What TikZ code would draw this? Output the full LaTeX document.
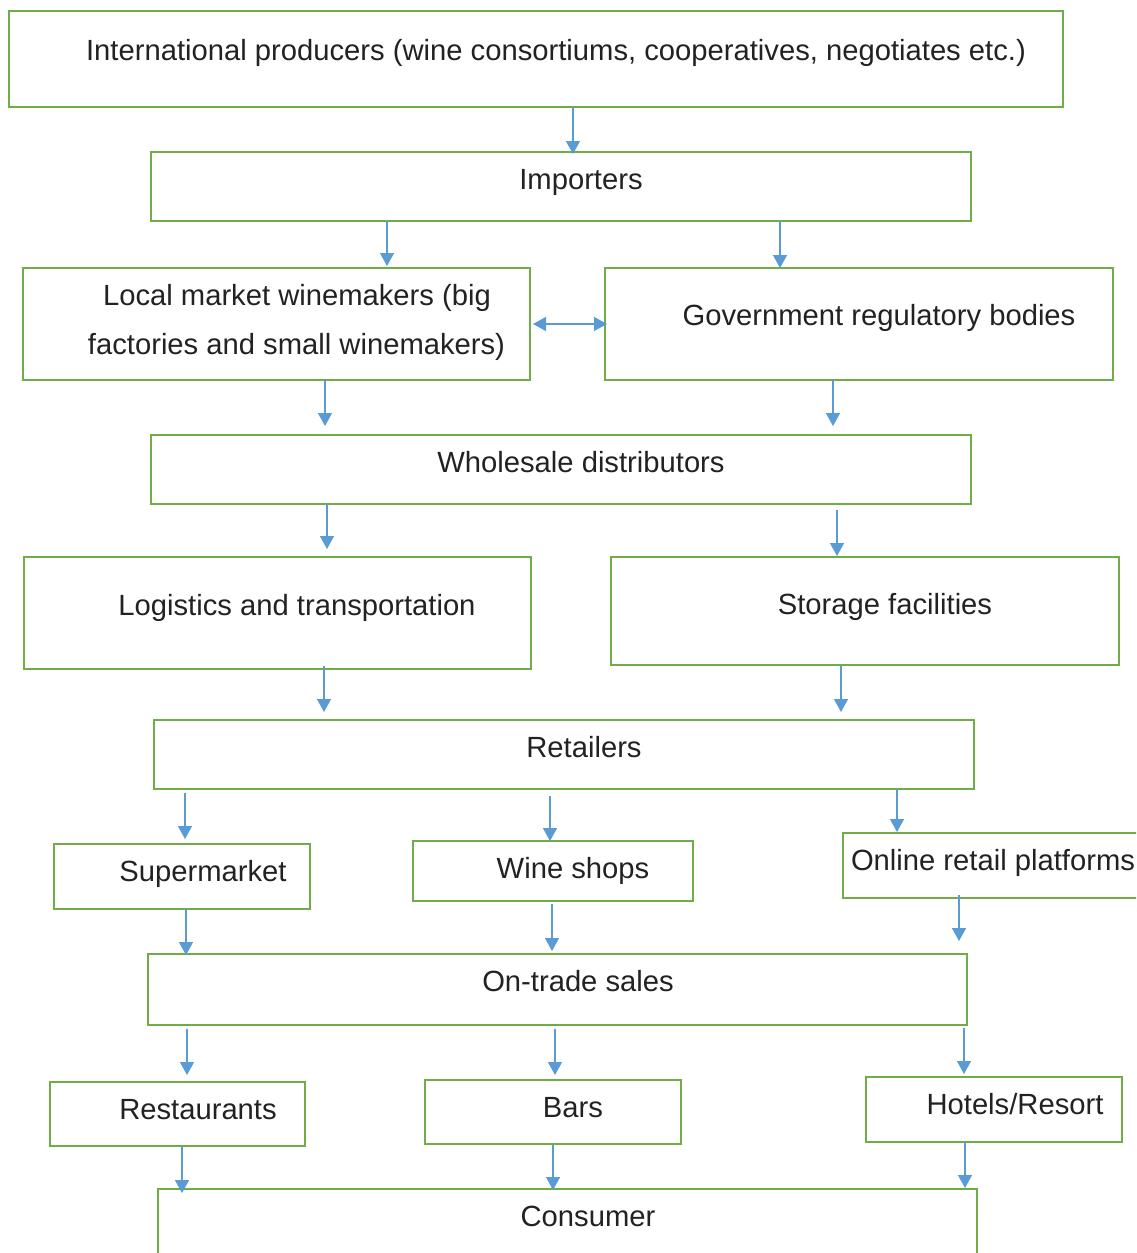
\documentclass[tikz,border=0pt]{standalone}
\usepackage{fontspec}
\setmainfont{Liberation Sans}
\usetikzlibrary{arrows.meta,calc}
\definecolor{boxgreen}{HTML}{70AD47}
\definecolor{arrblue}{HTML}{5B9BD5}
\definecolor{txt}{HTML}{222222}
\tikzset{
  box/.style={draw=boxgreen, line width=2pt, inner sep=0pt, outer sep=0pt, rectangle},
  lbl/.style={font=\fontsize{29.2}{34}\selectfont, text=txt, inner sep=0pt, anchor=base},
  arr/.style={color=arrblue, line width=1.4pt, -{Triangle[width=14pt,length=13pt]}},
  darr/.style={color=arrblue, line width=1.4pt, {Triangle[width=14pt,length=13pt]}-{Triangle[width=14pt,length=13pt]}}
}
\newcommand\varr[5]{\draw[arr] ($(#1.south -| #3,0)+(0,#4)$) -- ($(#2.north -| #3,0)+(0,#5)$);}
\begin{document}
\begin{tikzpicture}[x=1pt,y=-1pt]
\useasboundingbox (0,0) rectangle (1136,1253);
\fill[white] (0,0) rectangle (1136,1253);
\clip (0,0) rectangle (1136,1253);
% boxes
\node[box, minimum width=1054pt, minimum height=96pt] (intl) at (536,59) {};
\node[box, minimum width=820pt, minimum height=69pt] (imp) at (561,186.5) {};
\node[box, minimum width=507pt, minimum height=112pt] (loc) at (276.5,324) {};
\node[box, minimum width=508pt, minimum height=112pt] (gov) at (859,324) {};
\node[box, minimum width=820pt, minimum height=69pt] (whole) at (561,469.5) {};
\node[box, minimum width=507pt, minimum height=112pt] (logi) at (277.5,613) {};
\node[box, minimum width=508pt, minimum height=108pt] (stor) at (865,611) {};
\node[box, minimum width=820pt, minimum height=69pt] (ret) at (564,754.5) {};
\node[box, minimum width=256pt, minimum height=65pt] (sup) at (182,876.5) {};
\node[box, minimum width=280pt, minimum height=60pt] (wine) at (553,871) {};
\node[box, minimum width=307pt, minimum height=65pt] (onl) at (996.5,865.5) {};
\node[box, minimum width=819pt, minimum height=71pt] (ontr) at (557.5,989.5) {};
\node[box, minimum width=255pt, minimum height=64pt] (rest) at (177.5,1114) {};
\node[box, minimum width=256pt, minimum height=64pt] (bars) at (553,1112) {};
\node[box, minimum width=256pt, minimum height=65pt] (hot) at (994,1109.5) {};
\node[box, minimum width=819pt, minimum height=91pt] (cons) at (567.5,1234.5) {};
% texts
\node[lbl] (tintl) at (556,60) {International producers (wine consortiums, cooperatives, negotiates etc.)};
\node[lbl] (timp) at (581,189) {Importers};
\node[lbl] (tloca) at (297,305) {Local market winemakers (big};
\node[lbl] (tlocb) at (296.5,354) {factories and small winemakers)};
\node[lbl] (tgov) at (879,325) {Government regulatory bodies};
\node[lbl] (twhole) at (581,472) {Wholesale distributors};
\node[lbl] (tlogi) at (297,615) {Logistics and transportation};
\node[lbl] (tstor) at (885,614) {Storage facilities};
\node[lbl] (tret) at (584,757) {Retailers};
\node[lbl] (tsup) at (203,881) {Supermarket};
\node[lbl] (twine) at (573,878) {Wine shops};
\node[lbl] (tonl) at (993,870) {Online retail platforms};
\node[lbl] (tontr) at (578,991) {On-trade sales};
\node[lbl] (trest) at (198,1119) {Restaurants};
\node[lbl] (tbars) at (573,1117) {Bars};
\node[lbl] (thot) at (1015,1114) {Hotels/Resort};
\node[lbl] (tcons) at (588,1226) {Consumer};
% arrows
\varr{intl}{imp}{573}{0}{2}
\varr{imp}{loc}{387}{0}{-2}
\varr{imp}{gov}{780}{0}{0}
\draw[darr] ($(loc.east)+(3,0)$) -- ($(gov.west)+(2,0)$);
\varr{loc}{whole}{325}{0}{-9}
\varr{gov}{whole}{833}{0}{-9}
\varr{whole}{logi}{327}{0}{-8}
\varr{whole}{stor}{837}{6}{-1}
\varr{logi}{ret}{324}{-3}{-8}
\varr{stor}{ret}{841}{1}{-8}
\varr{ret}{sup}{185}{4}{-5}
\varr{ret}{wine}{550}{7}{0}
\varr{ret}{onl}{897}{0}{-1}
\varr{sup}{ontr}{186}{0}{1}
\varr{wine}{ontr}{552}{3}{-3}
\varr{onl}{ontr}{959}{-3}{-13}
\varr{ontr}{rest}{187}{4}{-7}
\varr{ontr}{bars}{555}{4}{-5}
\varr{ontr}{hot}{964}{3}{-3}
\varr{rest}{cons}{182}{1}{4}
\varr{bars}{cons}{553}{1}{1}
\varr{hot}{cons}{965}{0}{-1}
\end{tikzpicture}
\end{document}
